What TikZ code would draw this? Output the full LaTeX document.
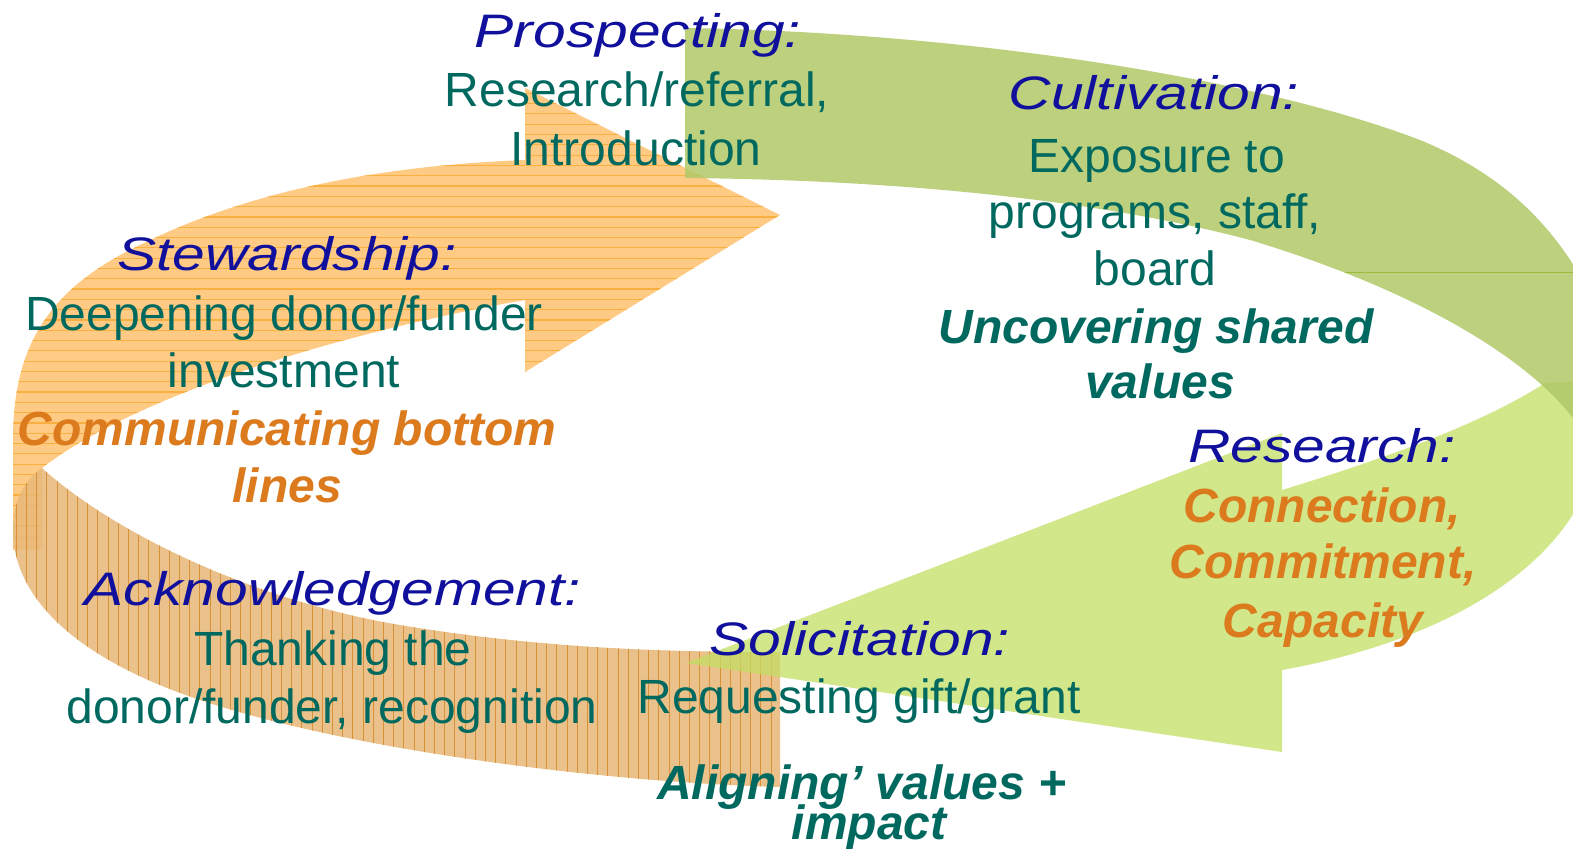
\documentclass[tikz,border=0pt]{standalone}
\usepackage{fontspec}
\setmainfont{Liberation Sans}
\newfontfamily\hdfont[FakeStretch=1.25]{Liberation Sans}
\definecolor{tealtxt}{HTML}{00695F}
\definecolor{bluetxt}{HTML}{10109C}
\definecolor{orangetxt}{HTML}{DC7A1E}
\definecolor{orfill}{HTML}{FFCA84}
\definecolor{orline}{HTML}{F8B040}
\definecolor{brfill}{HTML}{E8B97A}
\definecolor{brline}{HTML}{D88C30}
\definecolor{lgfill}{HTML}{C4DE63}
\definecolor{dgfill}{HTML}{B1C868}
\definecolor{dgline}{HTML}{9BBB3A}
\tikzset{
  hd/.style={anchor=base, inner sep=0pt, text=bluetxt, font=\hdfont\itshape\fontsize{47}{56}\selectfont},
  bd/.style={anchor=base, inner sep=0pt, text=tealtxt, font=\fontsize{48}{58}\selectfont},
  bi/.style={anchor=base, inner sep=0pt, text=tealtxt, font=\bfseries\itshape\fontsize{48}{58}\selectfont},
  bo/.style={bi, text=orangetxt},
  ostripe/.style={draw=orline, line width=1.2pt},
  bstripe/.style={draw=brline, line width=0.8pt},
}
\begin{document}
\begin{tikzpicture}[x=1pt, y=-1pt]
\useasboundingbox (0,0) rectangle (1573,856);
\fill[white] (0,0) rectangle (1573,856);
\begin{scope}
\clip (0,0) rectangle (1573,856);
% orange upper-left arrow (horizontal stripes)
\begin{scope}
  \clip (525,88) -- (780,215) -- (525,372) -- (525,300)
    .. controls (380,325) and (150,385) .. (42,468)
    -- (42,550) -- (13,550) -- (13,440)
    .. controls (13,350) and (45,290) .. (140,245)
    .. controls (260,185) and (400,165) .. (525,160) -- cycle;
  \fill[orfill] (0,0) rectangle (800,600);
  \foreach \yy in {83,93.3,...,562} \draw[ostripe] (0,\yy) -- (800,\yy);
\end{scope}
% brown lower-left arrow (vertical stripes)
\begin{scope}
  \clip (42,468) .. controls (110,530) and (250,600) .. (400,625)
    .. controls (550,650) and (680,652) .. (780,652)
    -- (780,787)
    .. controls (600,782) and (350,750) .. (200,700)
    .. controls (80,660) and (13,600) .. (13,530)
    .. controls (13,500) and (25,480) .. (42,468) -- cycle;
  \fill[brfill, fill opacity=0.88] (0,440) rectangle (800,800);
  \foreach \xx in {6,16.2,...,790} \draw[bstripe, draw opacity=0.9] (\xx,440) -- (\xx,800);
\end{scope}
% light green arrow
\fill[lgfill, fill opacity=0.75] (686,663) -- (1282,433) -- (1282,490)
  .. controls (1380,460) and (1480,425) .. (1545,383)
  -- (1600,380) -- (1600,440)
  .. controls (1585,560) and (1450,640) .. (1282,670)
  -- (1282,752) -- cycle;
% dark green arrow
\fill[dgfill, fill opacity=0.85] (685,28)
  .. controls (950,32) and (1250,75) .. (1420,140)
  .. controls (1530,185) and (1580,260) .. (1610,340)
  -- (1610,450) -- (1573,418)
  .. controls (1520,350) and (1400,285) .. (1250,240)
  .. controls (1100,200) and (900,180) .. (685,178) -- cycle;
\draw[dgline, line width=1pt] (1345,272) -- (1573,272);
\end{scope}
% texts
\node[hd] (prosH) at (638,48) {Prospecting:};
\node[bd] (prosA) at (637,107) {Research/referral,};
\node[bd] (prosB) at (636,165) {Introduction};
\node[hd] (cultH) at (1154,110) {Cultivation:};
\node[bd] (cultA) at (1157,172) {Exposure to};
\node[bd] (cultB) at (1155,228) {programs, staff,};
\node[bd] (cultC) at (1155,285) {board};
\node[bi] (cultD) at (1156,343) {Uncovering shared};
\node[bi] (cultE) at (1160,398) {values};
\node[hd] (resH) at (1322,462) {Research:};
\node[bo] (resA) at (1322,522) {Connection,};
\node[bo] (resB) at (1323,578) {Commitment,};
\node[bo] (resC) at (1323,637) {Capacity};
\node[hd] (stewH) at (287,270) {Stewardship:};
\node[bd] (stewA) at (284,330) {Deepening donor/funder};
\node[bd] (stewB) at (284,387) {investment};
\node[bo] (stewC) at (287,445) {Communicating bottom};
\node[bo] (stewD) at (287,502) {lines};
\node[hd] (ackH) at (333,605) {Acknowledgement:};
\node[bd] (ackA) at (333,665) {Thanking the};
\node[bd] (ackB) at (332,723) {donor/funder, recognition};
\node[hd] (solH) at (860,655) {Solicitation:};
\node[bd] (solA) at (859,713) {Requesting gift/grant};
\node[bi] (solB) at (862,799) {Aligning’ values +};
\node[bi] (solC) at (869,839) {impact};
\end{tikzpicture}
\end{document}
